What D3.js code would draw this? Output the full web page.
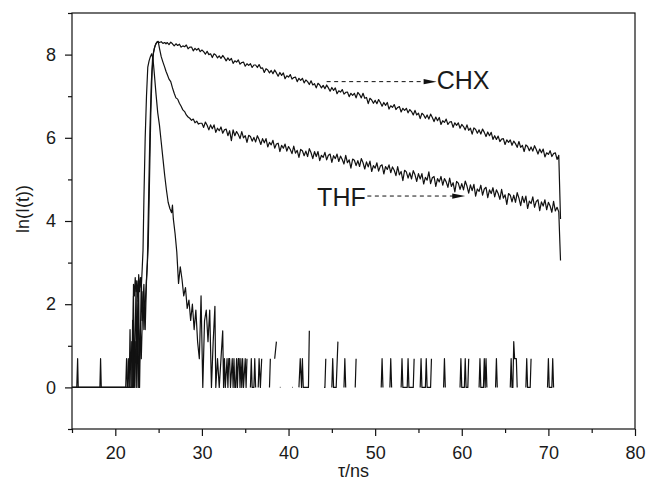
<!DOCTYPE html>
<html>
<head>
<meta charset="utf-8">
<script src="https://cdn.jsdelivr.net/npm/d3@7"></script>
<style>
  body { margin: 0; background: #fff; }
  svg { display: block; }
  text { font-family: "Liberation Sans", Arial, Helvetica, sans-serif; fill: #1a1a1a; }
</style>
</head>
<body>
<svg id="chart" width="648" height="484"></svg>
<script>
// Axis ticks
const xMajor = [20, 30, 40, 50, 60, 70, 80];
const xMinor = [15, 25, 35, 45, 55, 65, 75];
const yMajor = [0, 2, 4, 6, 8];
const yMinor = [-1, 1, 3, 5, 7, 9];

// Instrument response (narrow peak), [tau, ln(I)]; null = no counts
const irf = [
  [15.0, 0], [15.55, 0], [15.65, 0.69], [15.72, 0], [18.22, 0], [18.3, 0.69], [18.38, 0], [21.6, 0],
  [21.7, 1.39], [21.8, 0], [21.9, 1.1], [22.0, 0.69], [22.1, 2.48], [22.2, 2.2], [22.3, 2.64], [22.4, 2.3],
  [22.5, 2.56], [22.6, 2.08], [22.7, 2.71], [22.8, 2.3], [22.9, 2.64], [23.0, 2.4], [23.1, 2.83], [23.2, 3.3],
  [23.3, 4.5], [23.45, 6.0], [23.6, 7.0], [23.75, 7.7], [23.9, 7.85], [24.05, 7.95], [24.2, 8.02], [24.35, 7.9],
  [24.5, 7.55], [24.7, 7.05], [24.9, 6.6], [25.1, 6.3], [25.3, 5.9], [25.5, 5.5], [25.7, 5.1], [25.9, 4.75],
  [26.1, 4.45], [26.3, 4.3], [26.5, 4.2], [26.6, 4.38], [26.7, 4.05], [26.9, 3.7], [27.1, 3.25], [27.3, 2.5],
  [27.5, 2.9], [27.7, 2.6], [27.9, 2.2], [28.1, 2.4], [28.3, 1.9], [28.5, 2.1], [28.7, 1.61], [28.9, 2.0],
  [29.1, 1.39], [29.3, 1.86], [29.5, 1.1], [29.7, 0.69], [29.9, 2.2], [30.1, 0], [30.3, 1.6], [30.5, 1.86],
  [30.7, 1.1], [30.9, 1.86], [31.1, 0], [31.3, 1.1], [31.5, 1.95], [31.6, 0], [31.8, 0.69], [32.0, 0],
  [32.2, 0.69], [32.4, 1.36], [32.5, 0], [32.6, 0.69], [32.7, 0], [32.9, 0.69], [33.0, 0], [33.1, 0.69],
  [33.2, 0.69], [33.3, 0], [33.5, 0.69], [33.6, 0], [33.7, 0.69], [33.8, 0], [33.9, 0], [34.0, 0.69],
  [34.1, 0], [34.2, 0.69], [34.3, 0.69], [34.4, 0], [34.5, 0.69], [34.6, 0], [34.7, 0.69], [34.8, 0],
  [35.0, 0.69], [35.1, 0], [35.2, 0.69], [35.3, null], [35.6, 0], [35.7, 0.69], [35.8, 0], [36.0, 0],
  [36.1, 0.69], [36.2, 0], [36.3, null], [36.5, 0], [36.6, 0.69], [36.75, 0], [36.9, 0.69], [37.0, null],
  [37.8, 0], [37.9, 0.69], [38.0, null], [38.4, 0.69], [38.6, 1.1], [38.65, null],
  [39.0, 0], [39.06, 0], [39.1, null], [40.4, 0], [40.46, 0], [40.5, null],
  [41.2, 0], [41.35, 0.69], [41.5, 0], [41.6, 0.69], [41.7, 0], [42.3, 0], [42.4, 1.36], [42.45, null],
  [44.1, 0], [44.2, 0], [44.3, 0.69], [44.35, null], [45.0, 0], [45.1, 0.69], [45.2, 0], [45.5, 0],
  [45.7, 1.1], [45.75, null], [46.4, 0], [46.5, 0.69], [46.6, 0], [46.65, null], [47.7, 0], [47.8, 0.69],
  [47.85, null], [50.7, 0], [50.8, 0.69], [50.9, 0], [51.0, null], [51.7, 0], [51.8, 0.69], [51.9, 0],
  [52.0, null], [53.0, 0], [53.1, 0.69], [53.2, 0], [53.7, 0], [53.8, 0.69], [53.9, 0], [54.4, 0],
  [54.5, 0.69], [54.6, null], [55.2, 0], [55.3, 0.69], [55.4, 0], [55.8, 0], [55.9, 0.69], [56.0, 0],
  [56.4, 0], [56.5, 0.69], [56.6, null], [57.9, 0], [58.0, 0.69], [58.1, 0], [58.2, null], [59.8, 0],
  [59.9, 0.69], [60.0, 0], [60.3, 0], [60.4, 0.69], [60.5, 0], [60.7, 0], [60.8, 0.69], [60.9, null],
  [62.0, 0], [62.1, 0.69], [62.2, 0], [62.5, 0], [62.6, 0.69], [62.7, 0], [62.8, 0.69], [62.9, 0],
  [63.0, null], [63.9, 0], [64.0, 0.69], [64.1, 0], [64.2, null], [65.6, 0], [65.7, 0.69], [65.8, 0],
  [65.9, 0], [66.0, 1.1], [66.1, 0.69], [66.3, 0.69], [66.4, 0], [66.5, null], [67.4, 0], [67.5, 0.69],
  [67.6, 0], [67.9, 0], [68.0, 0.69], [68.1, null], [69.9, 0], [70.0, 0.69], [70.1, 0], [70.4, 0],
  [70.5, 0.69], [70.6, 0], [70.7, null]
];

// CHX decay: rising edge [tau, ln(I)], then tail sampled every 0.2 ns from 26.0 ns
const chxRise = [
  [15.0, 0], [21.4, 0], [21.5, 0.69], [21.6, 0], [21.9, 0], [22.0, 1.61], [22.1, 0], [22.3, 1.1],
  [22.4, 0], [22.6, 2.08], [22.7, 0], [22.9, 1.39], [23.0, 0.69], [23.2, 2.3], [23.3, 1.39], [23.5, 2.2],
  [23.7, 3.0], [23.85, 4.6], [24.0, 6.2], [24.15, 7.3], [24.3, 7.9], [24.5, 8.15], [24.7, 8.27], [24.9, 8.31],
  [25.1, 8.29], [25.3, 8.31], [25.5, 8.27], [25.7, 8.29], [25.85, 8.26]
];
const chxTail = [
  8.29, 8.24, 8.30, 8.26, 8.21, 8.26, 8.22, 8.25, 8.18, 8.21,
  8.19, 8.23, 8.14, 8.18, 8.18, 8.09, 8.15, 8.11, 8.15, 8.07,
  8.11, 8.07, 8.01, 8.08, 8.00, 8.02, 7.93, 8.02, 7.99, 7.92,
  7.97, 7.91, 7.98, 7.92, 7.85, 7.92, 7.86, 7.91, 7.79, 7.85,
  7.82, 7.87, 7.77, 7.81, 7.82, 7.72, 7.78, 7.74, 7.78, 7.69,
  7.75, 7.75, 7.69, 7.76, 7.67, 7.68, 7.57, 7.66, 7.63, 7.56,
  7.62, 7.54, 7.63, 7.56, 7.48, 7.57, 7.50, 7.56, 7.42, 7.49,
  7.46, 7.52, 7.41, 7.45, 7.46, 7.35, 7.43, 7.38, 7.43, 7.32,
  7.39, 7.35, 7.28, 7.37, 7.27, 7.30, 7.20, 7.31, 7.27, 7.20,
  7.26, 7.18, 7.27, 7.20, 7.12, 7.21, 7.14, 7.20, 7.06, 7.13,
  7.10, 7.16, 7.05, 7.09, 7.10, 6.99, 7.07, 7.02, 7.07, 6.96,
  7.09, 7.04, 6.96, 7.07, 6.95, 6.97, 6.82, 6.95, 6.91, 6.83,
  6.90, 6.82, 6.92, 6.85, 6.76, 6.85, 6.78, 6.85, 6.69, 6.77,
  6.73, 6.80, 6.68, 6.73, 6.75, 6.62, 6.71, 6.66, 6.71, 6.60,
  6.68, 6.63, 6.55, 6.66, 6.55, 6.59, 6.46, 6.59, 6.55, 6.47,
  6.55, 6.45, 6.57, 6.49, 6.39, 6.50, 6.41, 6.49, 6.32, 6.41,
  6.37, 6.45, 6.32, 6.38, 6.39, 6.25, 6.36, 6.30, 6.36, 6.23,
  6.32, 6.27, 6.19, 6.31, 6.18, 6.23, 6.09, 6.24, 6.20, 6.11,
  6.19, 6.09, 6.21, 6.13, 6.03, 6.14, 6.05, 6.13, 5.96, 6.05,
  5.96, 6.04, 5.91, 5.97, 5.98, 5.84, 5.95, 5.89, 5.95, 5.82,
  5.92, 5.86, 5.77, 5.91, 5.77, 5.82, 5.67, 5.83, 5.79, 5.69,
  5.78, 5.68, 5.81, 5.72, 5.61, 5.73, 5.64, 5.73, 5.54, 5.64,
  5.60, 5.69, 5.55, 5.62, 5.64, 5.48, 5.58, 4.05
];

// THF decay: rising edge [tau, ln(I)], then tail sampled every 0.2 ns from 26.0 ns
const thfRise = [
  [15.0, 0], [21.2, 0], [21.3, 0.69], [21.4, 0], [22.0, 0], [22.1, 2.2], [22.2, 0], [22.4, 2.56],
  [22.5, 0], [22.7, 2.4], [22.8, 0], [23.0, 2.64], [23.1, 1.61], [23.3, 2.48], [23.45, 1.39], [23.6, 2.56],
  [23.8, 3.4], [23.95, 5.0], [24.1, 6.6], [24.25, 7.6], [24.4, 8.05], [24.6, 8.22], [24.8, 8.3], [24.95, 8.32],
  [25.1, 8.15], [25.3, 7.95], [25.5, 7.82], [25.7, 7.7], [25.85, 7.6]
];
const thfTail = [
  7.52, 7.41, 7.35, 7.20, 7.07, 6.96, 6.93, 6.83, 6.76, 6.67,
  6.63, 6.55, 6.50, 6.47, 6.42, 6.45, 6.36, 6.40, 6.33, 6.35,
  6.35, 6.25, 6.38, 6.30, 6.19, 6.31, 6.22, 6.31, 6.13, 6.23,
  6.17, 6.26, 6.11, 6.19, 6.21, 6.05, 6.17, 5.93, 6.19, 6.05,
  6.15, 6.08, 5.98, 6.15, 6.00, 6.05, 5.89, 6.06, 6.03, 5.92,
  6.01, 5.90, 6.05, 5.96, 5.84, 5.98, 5.88, 5.98, 5.78, 5.89,
  5.83, 5.94, 5.75, 5.85, 5.87, 5.67, 5.82, 5.75, 5.85, 5.68,
  5.79, 5.72, 5.62, 5.80, 5.63, 5.70, 5.53, 5.72, 5.69, 5.57,
  5.68, 5.55, 5.74, 5.64, 5.50, 5.67, 5.55, 5.67, 5.45, 5.58,
  5.53, 5.65, 5.47, 5.58, 5.61, 5.41, 5.57, 5.50, 5.61, 5.43,
  5.56, 5.48, 5.37, 5.58, 5.40, 5.47, 5.27, 5.49, 5.46, 5.33,
  5.45, 5.31, 5.50, 5.40, 5.25, 5.42, 5.30, 5.44, 5.19, 5.33,
  5.27, 5.40, 5.20, 5.32, 5.35, 5.13, 5.31, 5.24, 5.35, 5.16,
  5.30, 5.22, 5.09, 5.31, 5.11, 5.19, 4.97, 5.22, 5.18, 5.03,
  5.16, 5.01, 5.21, 5.11, 4.95, 5.14, 5.01, 5.14, 4.89, 5.05,
  4.98, 5.18, 4.90, 5.04, 5.07, 4.83, 5.02, 4.94, 5.07, 4.86,
  5.02, 4.94, 4.81, 5.03, 4.83, 4.92, 4.70, 4.95, 4.91, 4.76,
  4.90, 4.75, 4.96, 4.84, 4.67, 4.87, 4.73, 4.88, 4.60, 4.77,
  4.71, 4.86, 4.62, 4.77, 4.81, 4.56, 4.75, 4.66, 4.80, 4.58,
  4.75, 4.66, 4.52, 4.76, 4.55, 4.63, 4.40, 4.66, 4.62, 4.46,
  4.62, 4.45, 4.68, 4.55, 4.37, 4.59, 4.44, 4.60, 4.30, 4.48,
  4.42, 4.58, 4.33, 4.47, 4.51, 4.25, 4.46, 4.36, 4.51, 4.27,
  4.45, 4.36, 4.21, 4.47, 4.24, 4.33, 4.22, 3.05
];
const tailStart = 26.0;
const tailStep = 0.2;

// Annotations: label, dashed arrow from/to (tau) at a ln(I) level, text anchor
const labels = [
  { text: "CHX", from: 44.4, to: 57.1, level: 7.35, tx: 57.1, ty: 7.17 },
  { text: "THF", from: 49.1, to: 60.4, level: 4.6, tx: 43.3, ty: 4.36 }
];

const svg = d3.select("#chart");
const plotLeft = 72, plotRight = 635, plotTop = 13, plotBottom = 429;

const x = d3.scaleLinear().domain([15, 80]).range([plotLeft, plotRight]);
const y = d3.scaleLinear().domain([-1, 9]).range([plotBottom, plotTop]);

// frame
svg.append("rect")
  .attr("x", plotLeft).attr("y", plotTop)
  .attr("width", plotRight - plotLeft).attr("height", plotBottom - plotTop)
  .attr("fill", "none").attr("stroke", "#111").attr("stroke-width", 1.2);

// bottom axis
const gx = svg.append("g").attr("transform", `translate(0,${plotBottom})`);
gx.call(d3.axisBottom(x).tickValues(xMajor).tickSize(7).tickPadding(10).tickFormat(d3.format("d")));
gx.append("g").call(d3.axisBottom(x).tickValues(xMinor).tickSize(4).tickFormat(""));

// left axis
const gy = svg.append("g").attr("transform", `translate(${plotLeft},0)`);
gy.call(d3.axisLeft(y).tickValues(yMajor).tickSize(7).tickPadding(9).tickFormat(d3.format("d")));
gy.append("g").call(d3.axisLeft(y).tickValues(yMinor).tickSize(4).tickFormat(""));

svg.selectAll(".domain").remove();
svg.selectAll(".tick line").attr("stroke", "#111").attr("stroke-width", 1.2);
svg.selectAll(".tick text")
  .attr("fill", "#1a1a1a")
  .style("font-size", "18px")
  .style("font-family", "'Liberation Sans', Arial, sans-serif");

// axis titles
svg.append("text")
  .attr("x", (plotLeft + plotRight) / 2).attr("y", 477)
  .attr("text-anchor", "middle")
  .style("font-size", "18px")
  .text("τ/ns");

svg.append("text")
  .attr("transform", "translate(29,209) rotate(-90)")
  .attr("text-anchor", "middle")
  .style("font-size", "18px")
  .text("ln(I(t))");

// curves
const line = d3.line()
  .defined(d => d[1] !== null)
  .x(d => x(d[0]))
  .y(d => y(d[1]));

const chx = chxRise.concat(chxTail.map((v, i) => [tailStart + i * tailStep, v]));
const thf = thfRise.concat(thfTail.map((v, i) => [tailStart + i * tailStep, v]));

[irf, thf, chx].forEach(series => {
  svg.append("path")
    .datum(series)
    .attr("d", line)
    .attr("fill", "none")
    .attr("stroke", "#111")
    .attr("stroke-width", 1.2)
    .attr("stroke-linejoin", "round");
});

// labels with dashed arrows
labels.forEach(l => {
  const yy = y(l.level);
  const x0 = x(l.from), x1 = x(l.to);
  svg.append("line")
    .attr("x1", x0).attr("x2", x1 - 12)
    .attr("y1", yy).attr("y2", yy)
    .attr("stroke", "#111").attr("stroke-width", 1)
    .attr("stroke-dasharray", "4,3.5");
  svg.append("path")
    .attr("d", `M${x1},${yy} L${x1 - 13},${yy - 2.6} L${x1 - 13},${yy + 2.6} Z`)
    .attr("fill", "#111");
  svg.append("text")
    .attr("x", x(l.tx)).attr("y", y(l.ty))
    .style("font-size", "25px")
    .text(l.text);
});
</script>
</body>
</html>
